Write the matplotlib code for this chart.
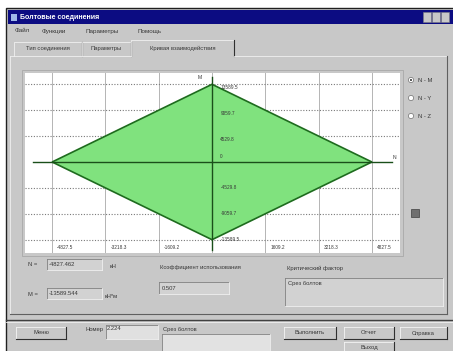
import matplotlib
matplotlib.use("Agg")
import matplotlib.pyplot as plt
from matplotlib.patches import Rectangle, Polygon

plt.rcParams['font.family'] = ['Liberation Sans', 'DejaVu Sans']

# interaction curve (N, M)
curve_n = [-4827.462, 0.0, 4827.462, 0.0]
curve_m = [0.0, 13589.544, 0.0, -13589.544]

x_ticks = [-4827.5, -3218.3, -1609.2, 1609.2, 3218.3, 4827.5]
x_tick_labels = ['-4827.5', '-3218.3', '-1609.2', '1609.2', '3218.3', '4827.5']
y_ticks = [13589.5, 9059.7, 4529.8, -4529.8, -9059.7, -13589.5]
y_tick_labels = ['13589.5', '9059.7', '4529.8', '-4529.8', '-9059.7', '-13589.5']

menu_items = ['Файл', 'Функции', 'Параметры', 'Помощь']
menu_x = [15, 42, 85, 137]
tabs = ['Тип соединения', 'Параметры', 'Кривая взаимодействия']
radio_labels = ['N - M', 'N - Y', 'N - Z']

n_value = '-4827.462'
m_value = '-13589.544'
util_value = '0.507'
crit_value = 'Срез болтов'
number_value = '2.224'

W, H = 453, 351
fig = plt.figure(figsize=(W / 100, H / 100), dpi=100)

# background axes in pixel coordinates (y down)
bg = fig.add_axes([0, 0, 1, 1])
bg.set_xlim(0, W)
bg.set_ylim(H, 0)
bg.axis('off')

GRAY = '#c8c8c8'
TXT = '#383838'
FS = 4.2


def box(x, y, w, h, fc, ec='none', lw=0.6, z=1):
    bg.add_patch(Rectangle((x, y), w, h, fc=fc, ec=ec, lw=lw, zorder=z))


def sunken(x, y, w, h, fc='#d2d2d2'):
    box(x, y, w, h, fc, z=2)
    bg.plot([x, x + w], [y, y], color='#808080', lw=0.6, zorder=3)
    bg.plot([x, x], [y, y + h], color='#808080', lw=0.6, zorder=3)
    bg.plot([x, x + w], [y + h, y + h], color='#f0f0f0', lw=0.6, zorder=3)
    bg.plot([x + w, x + w], [y, y + h], color='#f0f0f0', lw=0.6, zorder=3)


def button(x, y, w, h, label):
    box(x, y, w, h, GRAY, z=2)
    bg.plot([x, x + w], [y, y], color='#f4f4f4', lw=0.6, zorder=3)
    bg.plot([x, x], [y, y + h], color='#f4f4f4', lw=0.6, zorder=3)
    bg.plot([x, x + w], [y + h, y + h], color='#303030', lw=0.8, zorder=3)
    bg.plot([x + w, x + w], [y, y + h], color='#303030', lw=0.8, zorder=3)
    bg.text(x + w / 2, y + h / 2, label, fontsize=FS, ha='center', va='center', color=TXT, zorder=4)


# window
box(0, 0, W, H, 'white', z=0)
box(6, 8, W, H, GRAY, ec='#202020', lw=1.0)
box(8, 10, W, 14, '#0c0c82', z=2)
bg.text(20, 17.5, 'Болтовые соединения', fontsize=5.0, color='white', va='center', weight='bold', zorder=3)
bg.add_patch(Rectangle((11, 14), 6, 7, fc='#9fb8e8', ec='none', zorder=3))
for bx in [423, 432, 441]:
    box(bx, 12, 8, 10, '#c8c8c8', ec='#808080', lw=0.4, z=3)

# menu
for item, mx in zip(menu_items, menu_x):
    bg.text(mx, 31, item, fontsize=FS + 0.3, va='center', color=TXT, zorder=3)

# tabs
tab_x = [14, 82, 131, 234]
for i, name in enumerate(tabs):
    x0, x1 = tab_x[i], tab_x[i + 1]
    top = 40 if i == 2 else 42
    bg.plot([x0, x0, x1], [56, top, top], color='#f0f0f0', lw=0.6, zorder=3)
    bg.plot([x1, x1], [top, 56], color='#303030', lw=0.8, zorder=3)
    bg.text((x0 + x1) / 2, 48.5, name, fontsize=FS, ha='center', va='center', color=TXT, zorder=4)

# tab panel
bg.plot([10, 131], [56, 56], color='#f0f0f0', lw=0.6, zorder=3)
bg.plot([234, 447], [56, 56], color='#f0f0f0', lw=0.6, zorder=3)
bg.plot([10, 10], [56, 314], color='#f0f0f0', lw=0.6, zorder=3)
bg.plot([447, 447], [56, 314], color='#606060', lw=0.8, zorder=3)
bg.plot([10, 447], [314, 314], color='#606060', lw=0.8, zorder=3)

# chart frame
box(22, 70, 381, 186, GRAY, ec='#a8a8a8', lw=0.6, z=2)

# radio buttons
for i, lab in enumerate(radio_labels):
    ry = 80 + i * 18
    bg.add_patch(plt.Circle((411, ry), 2.6, fc='white', ec='#707070', lw=0.5, zorder=3))
    if i == 0:
        bg.add_patch(plt.Circle((411, ry), 1.0, fc='#303030', ec='none', zorder=4))
    bg.text(418, ry, lab, fontsize=FS, va='center', color=TXT, zorder=3)
box(411, 209, 8, 8, '#707070', ec='#404040', lw=0.5, z=3)

# result fields
bg.text(28, 265, 'N =', fontsize=FS, va='center', color=TXT, zorder=3)
sunken(47, 259, 55, 11)
bg.text(49, 264.5, n_value, fontsize=FS, va='center', color=TXT, zorder=4)
bg.text(110, 266, 'кН', fontsize=FS, va='center', color=TXT, zorder=3)

bg.text(28, 294, 'M =', fontsize=FS, va='center', color=TXT, zorder=3)
sunken(47, 288, 55, 11)
bg.text(49, 293.5, m_value, fontsize=FS, va='center', color=TXT, zorder=4)
bg.text(105, 297, 'кН*м', fontsize=FS, va='center', color=TXT, zorder=3)

bg.text(160, 268, 'Коэффициент использования', fontsize=FS, va='center', color=TXT, zorder=3)
sunken(159, 282, 70, 12)
bg.text(162, 288, util_value, fontsize=FS, va='center', color=TXT, zorder=4)

bg.text(287, 268, 'Критический фактор', fontsize=FS, va='center', color=TXT, zorder=3)
sunken(285, 278, 158, 28)
bg.text(288, 283, crit_value, fontsize=FS, va='center', color=TXT, zorder=4)

# bottom bar
bg.plot([6, W], [320, 320], color='#404040', lw=1.0, zorder=3)
bg.plot([6, W], [321.5, 321.5], color='#f0f0f0', lw=0.6, zorder=3)
button(16, 327, 50, 12, 'Меню')
bg.text(85, 330, 'Номер', fontsize=FS, va='center', color=TXT, zorder=3)
sunken(106, 325, 52, 14, fc='#e0e0e0')
bg.text(107, 328, number_value, fontsize=FS, va='center', color=TXT, zorder=4)
sunken(162, 334, 108, 20, fc='#e2e2e2')
bg.text(163, 330, crit_value, fontsize=FS, va='center', color=TXT, zorder=4)
button(284, 327, 52, 12, 'Выполнить')
button(344, 327, 50, 12, 'Отчет')
button(400, 327, 47, 12, 'Справка')
button(344, 342, 50, 12, 'Выход')

# chart
ax = fig.add_axes([25 / W, (H - 253) / H, 375 / W, 180 / H])
ax.set_facecolor('white')
ax.set_xlim(-5646, 5676)
ax.set_ylim(-15916, 15566)
for s in ax.spines.values():
    s.set_visible(False)
ax.set_xticks([])
ax.set_yticks([])
for xv in x_ticks:
    ax.axvline(xv, color='#b4b4b4', lw=0.7, zorder=1)
ax.axvline(0, color='#b4b4b4', lw=0.7, zorder=1)
for yv in y_ticks:
    ax.axhline(yv, color='#7a7a7a', lw=0.8, ls=(0, (1, 1.5)), zorder=1)

ax.add_patch(Polygon(list(zip(curve_n, curve_m)), closed=True, fc='#80e27e', ec='#1e6b1e', lw=1.2, zorder=2))
ax.plot([-5404, 5434], [0, 0], color='#1a4f1a', lw=1.0, zorder=3)
ax.plot([0, 0], [-15391, 14866], color='#1a4f1a', lw=1.0, zorder=3)
ax.text(5450, 400, 'N', fontsize=3.6, color=TXT, va='bottom', zorder=4)
ax.text(-300, 14866, 'M', fontsize=3.6, color=TXT, ha='right', va='center', zorder=4)
for yv, lab in zip(y_ticks, y_tick_labels):
    ax.text(250, yv - 600 if yv > 0 else yv, lab, fontsize=3.4, color=TXT, va='center', zorder=4)
ax.text(250, 600, '0', fontsize=3.4, color=TXT, va='bottom', zorder=4)
for xv, lab in zip(x_ticks, x_tick_labels):
    ax.text(xv + 150, -14900, lab, fontsize=3.4, color=TXT, va='center', zorder=4)

fig.savefig('out.png', dpi=100)
